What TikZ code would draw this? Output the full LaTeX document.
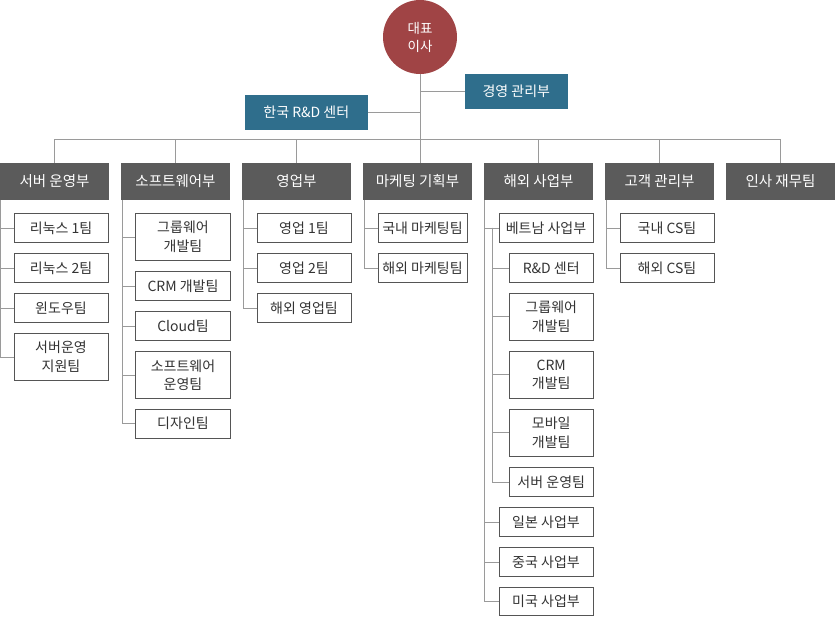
\documentclass[tikz,border=0pt]{standalone}
\usepackage{fontspec}
\setmainfont{Noto Sans CJK KR}
\usetikzlibrary{positioning}

\definecolor{ceored}{HTML}{A04445}
\definecolor{staffblue}{HTML}{2F6E8C}
\definecolor{deptgray}{HTML}{5B5B5B}
\definecolor{boxgray}{HTML}{555555}
\definecolor{linegray}{HTML}{9A9A9A}

\tikzset{
  ceo/.style={circle, fill=ceored, text=white, minimum size=74pt, inner sep=0pt, align=center, font=\fontsize{13.5}{18}\selectfont},
  staff/.style={fill=staffblue, text=white, minimum height=34.7pt, inner sep=0pt, font=\fontsize{14}{16}\selectfont},
  dept/.style={fill=deptgray, text=white, minimum width=109pt, minimum height=37pt, inner sep=0pt, font=\fontsize{14.5}{16}\selectfont},
  team/.style={draw=boxgray, fill=white, line width=1pt, anchor=west, minimum height=29pt, inner sep=0pt, align=center, text=black!80, font=\fontsize{14}{18.5}\selectfont},
  tall/.style={minimum height=47pt},
  link/.style={draw=linegray, line width=0.9pt}
}

\begin{document}
\begin{tikzpicture}[x=1pt,y=-1pt]
\useasboundingbox (0,0) rectangle (835,617);

% top
\node[ceo] (ceo) at (420,37) {대표\\이사};
\node[staff, minimum width=102.7pt] (mgmt) at (516.3,91.3) {경영 관리부};
\node[staff, minimum width=122.7pt] (krrnd) at (306.3,112.3) {한국 R\&D 센터};
\coordinate (bus) at (420,139.3);

% departments
\node[dept] (d1) at (54.5,181.5) {서버 운영부};
\node[dept] (d2) at (175.5,181.5) {소프트웨어부};
\node[dept] (d3) at (296.5,181.5) {영업부};
\node[dept] (d4) at (417.5,181.5) {마케팅 기획부};
\node[dept] (d5) at (538.5,181.5) {해외 사업부};
\node[dept] (d6) at (659.5,181.5) {고객 관리부};
\node[dept] (d7) at (780.5,181.5) {인사 재무팀};

% 서버 운영부
\node[team, minimum width=94pt] (t11) at (13.5,228) {리눅스 1팀};
\node[team, minimum width=94pt] (t12) at (13.5,268) {리눅스 2팀};
\node[team, minimum width=94pt] (t13) at (13.5,308) {윈도우팀};
\node[team, tall, minimum width=94pt] (t14) at (13.5,357) {서버운영\\지원팀};

% 소프트웨어부
\node[team, tall, minimum width=95pt] (t21) at (135,237) {그룹웨어\\개발팀};
\node[team, minimum width=95pt] (t22) at (135,286.2) {CRM 개발팀};
\node[team, minimum width=95pt] (t23) at (135,326.2) {Cloud팀};
\node[team, tall, minimum width=95pt] (t24) at (135,375) {소프트웨어\\운영팀};
\node[team, minimum width=95pt] (t25) at (135,423.7) {디자인팀};

% 영업부
\node[team, minimum width=94pt] (t31) at (256.5,228) {영업 1팀};
\node[team, minimum width=94pt] (t32) at (256.5,268) {영업 2팀};
\node[team, minimum width=94pt] (t33) at (256.5,308) {해외 영업팀};

% 마케팅 기획부
\node[team, minimum width=89pt] (t41) at (377.5,228) {국내 마케팅팀};
\node[team, minimum width=89pt] (t42) at (377.5,268) {해외 마케팅팀};

% 해외 사업부
\node[team, minimum width=94pt] (t51) at (498.5,228) {베트남 사업부};
\node[team, minimum width=83.5pt] (v1) at (509,268) {R\&D 센터};
\node[team, tall, minimum width=83.5pt] (v2) at (509,316.7) {그룹웨어\\개발팀};
\node[team, tall, minimum width=83.5pt] (v3) at (509,374.7) {CRM\\개발팀};
\node[team, tall, minimum width=83.5pt] (v4) at (509,432.7) {모바일\\개발팀};
\node[team, minimum width=83.5pt] (v5) at (509,482) {서버 운영팀};
\node[team, minimum width=94pt] (t52) at (498.5,522) {일본 사업부};
\node[team, minimum width=94pt] (t53) at (498.5,562) {중국 사업부};
\node[team, minimum width=94pt, minimum height=28.5pt] (t54) at (498.5,601.7) {미국 사업부};

% 고객 관리부
\node[team, minimum width=94pt] (t61) at (619.5,228) {국내 CS팀};
\node[team, minimum width=94pt] (t62) at (619.5,268) {해외 CS팀};

% lines from the top
\draw[link] (ceo.south) -- (ceo.south |- d4.north);
\draw[link] (mgmt.west) -- (mgmt.west -| ceo.south);
\draw[link] (krrnd.east) -- (krrnd.east -| ceo.south);
\draw[link] (d1.north) |- (bus) -| (d7.north);
\draw[link] (d2.north) -- (d2.north |- bus);
\draw[link] (d3.north) -- (d3.north |- bus);
\draw[link] (d5.north) -- (d5.north |- bus);
\draw[link] (d6.north) -- (d6.north |- bus);

% team lines
\draw[link] ([xshift=1pt]d1.south west) |- (t11.west);
\draw[link] ([xshift=1pt]d1.south west) |- (t12.west);
\draw[link] ([xshift=1pt]d1.south west) |- (t13.west);
\draw[link] ([xshift=1pt]d1.south west) |- (t14.west);
\draw[link] ([xshift=1.3pt]d2.south west) |- (t21.west);
\draw[link] ([xshift=1.3pt]d2.south west) |- (t22.west);
\draw[link] ([xshift=1.3pt]d2.south west) |- (t23.west);
\draw[link] ([xshift=1.3pt]d2.south west) |- (t24.west);
\draw[link] ([xshift=1.3pt]d2.south west) |- (t25.west);
\draw[link] ([xshift=1.3pt]d3.south west) |- (t31.west);
\draw[link] ([xshift=1.3pt]d3.south west) |- (t32.west);
\draw[link] ([xshift=1.3pt]d3.south west) |- (t33.west);
\draw[link] ([xshift=1.3pt]d4.south west) |- (t41.west);
\draw[link] ([xshift=1.3pt]d4.south west) |- (t42.west);
\draw[link] ([xshift=1pt]d5.south west) |- (t51.west);
\draw[link] ([xshift=1pt]d5.south west) |- (t52.west);
\draw[link] ([xshift=1pt]d5.south west) |- (t53.west);
\draw[link] ([xshift=1pt]d5.south west) |- (t54.west);
\draw[link] ([xshift=-6pt]t51.west) |- (v1.west);
\draw[link] ([xshift=-6pt]t51.west) |- (v2.west);
\draw[link] ([xshift=-6pt]t51.west) |- (v3.west);
\draw[link] ([xshift=-6pt]t51.west) |- (v4.west);
\draw[link] ([xshift=-6pt]t51.west) |- (v5.west);
\draw[link] ([xshift=1.5pt]d6.south west) |- (t61.west);
\draw[link] ([xshift=1.5pt]d6.south west) |- (t62.west);
\end{tikzpicture}
\end{document}
